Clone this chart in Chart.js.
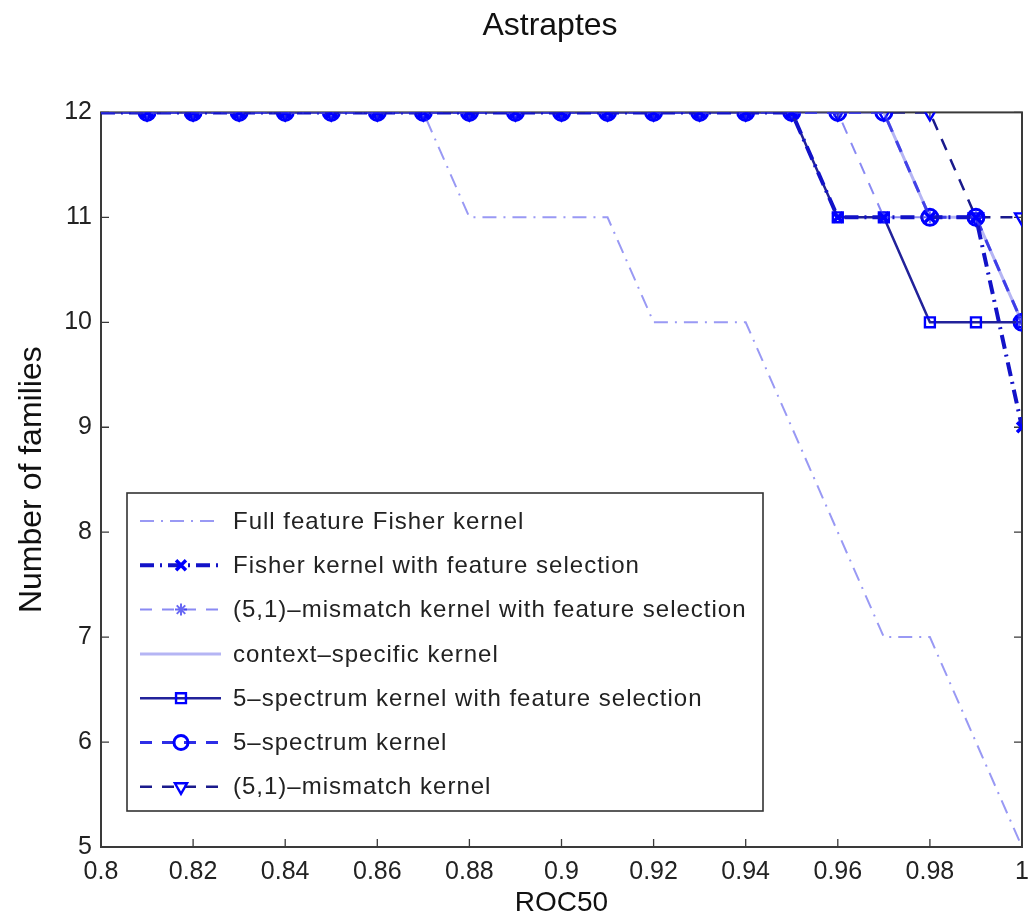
<!DOCTYPE html>
<html>
<head>
<meta charset="utf-8">
<title>Astraptes</title>
<script src="https://cdn.jsdelivr.net/npm/chart.js@4.4.0/dist/chart.umd.min.js"></script>
<style>
  html, body { margin: 0; padding: 0; background: #fff; overflow: hidden; }
  #wrap { width: 1100px; height: 919px; }
</style>
</head>
<body>
<div id="wrap"><canvas id="rocChart" width="1100" height="919"></canvas></div>
<script>
// ROC50 thresholds and number of families reaching each one
const roc50 = [0.80, 0.81, 0.82, 0.83, 0.84, 0.85, 0.86, 0.87, 0.88, 0.89, 0.90,
               0.91, 0.92, 0.93, 0.94, 0.95, 0.96, 0.97, 0.98, 0.99, 1.00];

const fullFisher   = [12, 12, 12, 12, 12, 12, 12, 12, 11, 11, 11, 11, 10, 10, 10, 9, 8, 7, 7, 6, 5];
const fisherFS     = [12, 12, 12, 12, 12, 12, 12, 12, 12, 12, 12, 12, 12, 12, 12, 12, 11, 11, 11, 11, 9];
const mismatchFS   = [12, 12, 12, 12, 12, 12, 12, 12, 12, 12, 12, 12, 12, 12, 12, 12, 12, 11, 11, 11, 10];
const contextSpec  = [12, 12, 12, 12, 12, 12, 12, 12, 12, 12, 12, 12, 12, 12, 12, 12, 12, 12, 11, 11, 10];
const spectrumFS   = [12, 12, 12, 12, 12, 12, 12, 12, 12, 12, 12, 12, 12, 12, 12, 12, 11, 11, 10, 10, 10];
const spectrum     = [12, 12, 12, 12, 12, 12, 12, 12, 12, 12, 12, 12, 12, 12, 12, 12, 12, 12, 11, 11, 10];
const mismatch     = [12, 12, 12, 12, 12, 12, 12, 12, 12, 12, 12, 12, 12, 12, 12, 12, 12, 12, 12, 11, 11];

const seriesNames = [
  'Full feature Fisher kernel',
  'Fisher kernel with feature selection',
  '(5,1)–mismatch kernel with feature selection',
  'context–specific kernel',
  '5–spectrum kernel with feature selection',
  '5–spectrum kernel',
  '(5,1)–mismatch kernel'
];

const xTickLabels = ['0.8', '0.82', '0.84', '0.86', '0.88', '0.9', '0.92', '0.94', '0.96', '0.98', '1'];
const yTickLabels = ['5', '6', '7', '8', '9', '10', '11', '12'];

const FONT = '"Liberation Sans", Arial, Helvetica, sans-serif';
const MARK = '#0000ff';

function pts(vals) {
  return roc50.map((x, i) => ({ x: x, y: vals[i] }));
}

// no marker on the first sample, it sits on the axis
function markerSize(r) {
  return ctx => (ctx.parsed && ctx.parsed.x < 0.805) ? 0 : r;
}

function lineSet(label, vals, style) {
  return Object.assign({
    label: label,
    data: pts(vals),
    yAxisID: 'y',
    fill: false,
    tension: 0,
    pointBackgroundColor: 'rgba(0,0,0,0)',
    pointBorderColor: MARK,
    pointBorderWidth: 2,
    pointRadius: 0,
    pointHoverRadius: 0,
    pointStyle: 'circle',
    pointRotation: 0
  }, style);
}

const datasets = [
  lineSet(seriesNames[0], fullFisher, {
    borderColor: 'rgba(70,70,235,0.55)', borderWidth: 2, borderDash: [14, 7, 2, 7]
  }),
  lineSet(seriesNames[1], fisherFS, {
    borderColor: '#1212c8', borderWidth: 4, borderDash: [14, 6, 2, 6],
    pointStyle: 'crossRot', pointRadius: markerSize(7), pointBorderWidth: 3.5
  }),
  lineSet(seriesNames[2], mismatchFS, {
    borderColor: 'rgba(60,60,235,0.6)', borderWidth: 2, borderDash: [12, 10],
    pointStyle: 'star', pointRadius: markerSize(6), pointBorderWidth: 2,
    pointBorderColor: 'rgba(40,40,240,0.7)'
  }),
  lineSet(seriesNames[3], contextSpec, {
    borderColor: 'rgba(90,90,230,0.45)', borderWidth: 3
  }),
  lineSet(seriesNames[4], spectrumFS, {
    borderColor: '#22229a', borderWidth: 2.5,
    pointStyle: 'rect', pointRadius: markerSize(7), pointBorderWidth: 2.4
  }),
  lineSet(seriesNames[5], spectrum, {
    borderColor: '#2e2ee6', borderWidth: 3, borderDash: [12, 10],
    pointStyle: 'circle', pointRadius: markerSize(8), pointBorderWidth: 3
  }),
  lineSet(seriesNames[6], mismatch, {
    borderColor: '#1a1a8c', borderWidth: 2.5, borderDash: [12, 10],
    pointStyle: 'triangle', pointRotation: 180, pointRadius: markerSize(8), pointBorderWidth: 2.4
  })
];

// box outline plus inward tick marks on all four sides
const axesFrame = {
  id: 'axesFrame',
  beforeDatasetsDraw(chart) {
    const ctx = chart.ctx, a = chart.chartArea;
    const xs = chart.scales.x, ys = chart.scales.y;
    const len = 8;
    ctx.save();
    ctx.strokeStyle = '#3a3a3a';
    ctx.lineWidth = 2;
    ctx.strokeRect(a.left, a.top, a.right - a.left, a.bottom - a.top);
    ctx.lineWidth = 1.3;
    ctx.beginPath();
    xs.ticks.forEach(t => {
      const px = xs.getPixelForValue(t.value);
      ctx.moveTo(px, a.bottom); ctx.lineTo(px, a.bottom - len);
      ctx.moveTo(px, a.top); ctx.lineTo(px, a.top + len);
    });
    ys.ticks.forEach(t => {
      const py = ys.getPixelForValue(t.value);
      ctx.moveTo(a.left, py); ctx.lineTo(a.left + len, py);
      ctx.moveTo(a.right, py); ctx.lineTo(a.right - len, py);
    });
    ctx.stroke();
    ctx.restore();
  }
};

// framed legend in the lower left corner of the plot
const boxLegend = {
  id: 'boxLegend',
  afterDatasetsDraw(chart) {
    const ctx = chart.ctx, a = chart.chartArea;
    const left = a.left + 26, right = a.left + 662;
    const top = a.bottom - 354, bottom = a.bottom - 36;
    const rowH = 44.3;
    ctx.save();
    ctx.fillStyle = '#fff';
    ctx.fillRect(left, top, right - left, bottom - top);
    ctx.strokeStyle = '#333';
    ctx.lineWidth = 1.6;
    ctx.strokeRect(left, top, right - left, bottom - top);

    chart.data.datasets.forEach((ds, i) => {
      const y = top + 28 + i * rowH;
      ctx.save();
      ctx.strokeStyle = ds.borderColor;
      ctx.lineWidth = ds.borderWidth;
      ctx.setLineDash(ds.borderDash || []);
      ctx.beginPath();
      ctx.moveTo(left + 13, y);
      ctx.lineTo(left + 94, y);
      ctx.stroke();
      ctx.restore();
      if (typeof ds.pointRadius === 'function') {
        ctx.save();
        ctx.strokeStyle = ds.pointBorderColor;
        ctx.fillStyle = 'rgba(0,0,0,0)';
        ctx.lineWidth = ds.pointBorderWidth;
        Chart.helpers.drawPoint(ctx, {
          pointStyle: ds.pointStyle,
          rotation: ds.pointRotation || 0,
          radius: ds.pointStyle === 'star' ? 6 : 7,
          borderWidth: ds.pointBorderWidth
        }, left + 54, y);
        ctx.restore();
      }
      ctx.fillStyle = '#222';
      ctx.font = '24px ' + FONT;
      ctx.letterSpacing = '1px';
      ctx.textBaseline = 'middle';
      ctx.textAlign = 'left';
      ctx.fillText(ds.label, left + 106, y + 1);
    });
    ctx.restore();
  }
};

new Chart(document.getElementById('rocChart'), {
  type: 'line',
  data: { datasets: datasets },
  plugins: [axesFrame, boxLegend],
  options: {
    responsive: false,
    animation: false,
    events: [],
    layout: { padding: 0 },
    plugins: {
      legend: { display: false },
      tooltip: { enabled: false },
      title: {
        display: true,
        text: 'Astraptes',
        color: '#111',
        font: { family: FONT, size: 32, weight: 'normal', lineHeight: 1.2 },
        padding: { top: 7, bottom: 67 }
      }
    },
    scales: {
      x: {
        type: 'linear',
        min: 0.8,
        max: 1.0,
        afterFit: s => { s.height = 72; },
        grid: { display: false, drawTicks: false },
        border: { display: false },
        ticks: {
          stepSize: 0.02,
          padding: 10,
          maxRotation: 0,
          autoSkip: false,
          color: '#222',
          font: { family: FONT, size: 25 },
          callback: (v, i) => xTickLabels[i]
        },
        title: {
          display: true,
          text: 'ROC50',
          color: '#111',
          font: { family: FONT, size: 28, lineHeight: 1.0 },
          padding: { top: 0, bottom: 2 }
        }
      },
      y: {
        type: 'linear',
        min: 5,
        max: 12,
        afterFit: s => { s.width = 101; },
        grid: { display: false, drawTicks: false },
        border: { display: false },
        ticks: {
          stepSize: 1,
          padding: 9,
          color: '#222',
          font: { family: FONT, size: 25 },
          callback: (v, i) => yTickLabels[i]
        },
        title: {
          display: true,
          text: 'Number of families',
          color: '#111',
          font: { family: FONT, size: 32, lineHeight: 1.2 },
          padding: { top: 13, bottom: 0 }
        }
      },
      // empty strip on the right so the plot box ends short of the canvas edge
      yRight: {
        type: 'linear',
        position: 'right',
        min: 5,
        max: 12,
        afterFit: s => { s.width = 78; },
        grid: { display: false, drawTicks: false },
        border: { display: false },
        ticks: { display: false }
      }
    }
  }
});
</script>
</body>
</html>
